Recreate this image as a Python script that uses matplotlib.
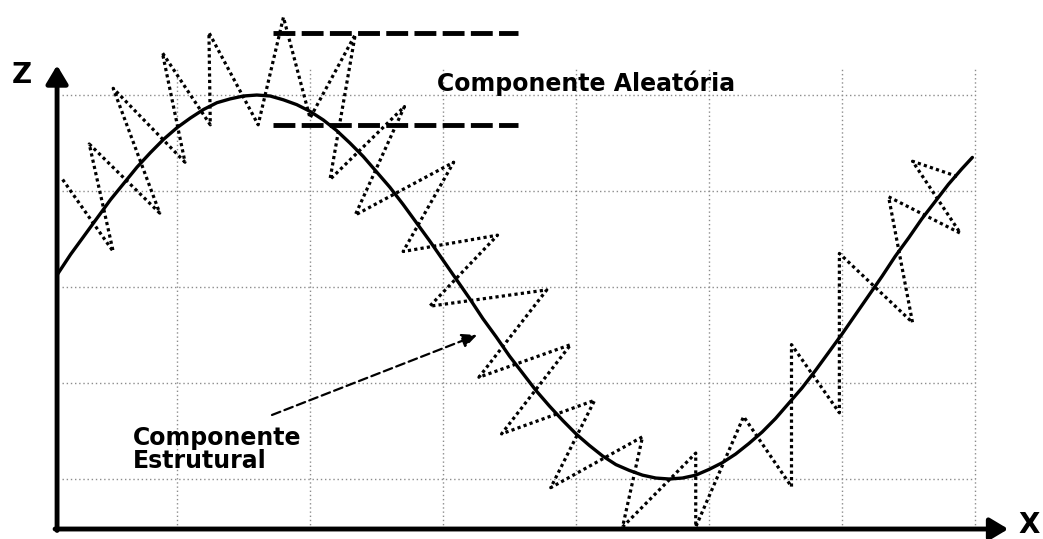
import matplotlib.pyplot as plt

# Grid positions (horizontal units along X, vertical units along Z)
grid_x = [1, 2, 3, 4, 5, 6, 7]
grid_z = [1, 2, 3, 4, 5]

# Structural component: the smooth curve
curve_x = [0.10, 0.20, 0.30, 0.40, 0.50, 0.60, 0.70, 0.80, 0.90, 1.00,
           1.10, 1.20, 1.30, 1.40, 1.50, 1.60, 1.70, 1.80, 1.90, 2.00,
           2.10, 2.20, 2.30, 2.40, 2.50, 2.60, 2.70, 2.80, 2.90, 3.00,
           3.10, 3.20, 3.30, 3.40, 3.50, 3.60, 3.70, 3.80, 3.90, 4.00,
           4.10, 4.20, 4.30, 4.40, 4.50, 4.60, 4.70, 4.80, 4.90, 5.00,
           5.10, 5.20, 5.30, 5.40, 5.50, 5.60, 5.70, 5.80, 5.90, 6.00,
           6.10, 6.20, 6.30, 6.40, 6.50, 6.60, 6.70, 6.80, 6.90, 6.98]
curve_z = [3.13, 3.34, 3.53, 3.72, 3.91, 4.08, 4.25, 4.40, 4.54, 4.66,
           4.76, 4.85, 4.92, 4.96, 4.99, 5.00, 4.99, 4.95, 4.90, 4.83,
           4.74, 4.63, 4.50, 4.36, 4.20, 4.04, 3.86, 3.67, 3.48, 3.28,
           3.08, 2.88, 2.67, 2.48, 2.28, 2.10, 1.92, 1.76, 1.61, 1.47,
           1.35, 1.24, 1.15, 1.09, 1.04, 1.01, 1.00, 1.01, 1.04, 1.10,
           1.17, 1.26, 1.37, 1.49, 1.63, 1.79, 1.95, 2.13, 2.32, 2.51,
           2.71, 2.91, 3.11, 3.32, 3.51, 3.71, 3.89, 4.07, 4.23, 4.35]

# Random component: zig-zag vertices
noise_x = [0.14, 0.52, 0.34, 0.87, 0.52, 1.06, 0.89, 1.25, 1.24, 1.61,
           1.80, 2.00, 2.34, 2.15, 2.71, 2.34, 3.08, 2.70, 3.41, 2.90,
           3.78, 3.27, 3.96, 3.44, 4.14, 3.81, 4.50, 4.35, 4.90, 4.90,
           5.26, 5.62, 5.62, 5.98, 5.98, 6.53, 6.35, 6.89, 6.53, 6.87]
noise_z = [4.12, 3.37, 4.49, 3.77, 5.07, 4.30, 5.44, 4.69, 5.65, 4.69,
           5.81, 4.76, 5.63, 4.12, 4.88, 3.75, 4.30, 3.37, 3.54, 2.80,
           2.97, 2.06, 2.40, 1.47, 1.82, 0.91, 1.44, 0.50, 1.27, 0.50,
           1.65, 0.92, 2.40, 1.69, 3.35, 2.63, 3.94, 3.56, 4.31, 4.15]

# Band that marks the size of the random component
band_z = [5.65, 4.69]
band_x = [1.72, 3.56]

# Axis origin and arrow ends
origin = (0.098, 0.479)
x_end = 7.25
z_end = 5.31

fig = plt.figure(figsize=(10.43, 5.39), dpi=100)
ax = fig.add_axes([0, 0, 1, 1])
ax.set_xlim(-0.331, 7.511)
ax.set_ylim(0.375, 5.99)
ax.axis('off')

# dotted grey grid, bounded like in the drawing
ax.vlines(grid_x, origin[1], 5.29, colors='#8c8c8c', linestyles=(0, (1, 2)), lw=1.0)
ax.hlines(grid_z, 0.135, 7.0, colors='#8c8c8c', linestyles=(0, (1, 2)), lw=1.0)

# axes with arrow heads
axis_style = '-|>,head_length=0.55,head_width=0.33'
ax.annotate('', xy=(origin[0], z_end), xytext=(origin[0], origin[1] - 0.015),
            arrowprops=dict(arrowstyle=axis_style, lw=3.5, color='black',
                            mutation_scale=20, shrinkA=0, shrinkB=0))
ax.annotate('', xy=(x_end, origin[1]), xytext=(origin[0] - 0.015, origin[1]),
            arrowprops=dict(arrowstyle=axis_style, lw=3.5, color='black',
                            mutation_scale=20, shrinkA=0, shrinkB=0))

# random component (dotted zig-zag)
ax.plot(noise_x, noise_z, color='black', lw=2.3, linestyle=(0, (1, 1)),
        dash_capstyle='butt')

# structural component (solid curve)
ax.plot(curve_x, curve_z, color='black', lw=2.4,
        solid_joinstyle='round', solid_capstyle='round')

# dashed band lines
ax.hlines(band_z, band_x[0], band_x[1], colors='black', lw=3.5,
          linestyles=(0, (4.5, 1.3)))

# labels
ax.text(-0.241, 5.125, 'Z', fontsize=20, fontweight='bold', family='DejaVu Sans',
        ha='left', va='baseline')
ax.text(7.323, 0.38, 'X', fontsize=20, fontweight='bold', family='DejaVu Sans',
        ha='left', va='bottom')
ax.text(2.955, 5.042, 'Componente Aleatória', fontsize=17, fontweight='bold',
        family='DejaVu Sans', ha='left', va='baseline')
ax.text(0.669, 1.354, 'Componente', fontsize=17, fontweight='bold',
        family='DejaVu Sans', ha='left', va='baseline')
ax.text(0.669, 1.115, 'Estrutural', fontsize=17, fontweight='bold',
        family='DejaVu Sans', ha='left', va='baseline')

# dashed pointer to the structural curve
ax.annotate('', xy=(3.256, 2.50), xytext=(1.714, 1.667),
            arrowprops=dict(arrowstyle='-|>,head_length=0.6,head_width=0.28',
                            lw=1.6, linestyle=(0, (4, 2)), color='black',
                            mutation_scale=15, shrinkA=0, shrinkB=0))

fig.savefig('out.png', dpi=100)
